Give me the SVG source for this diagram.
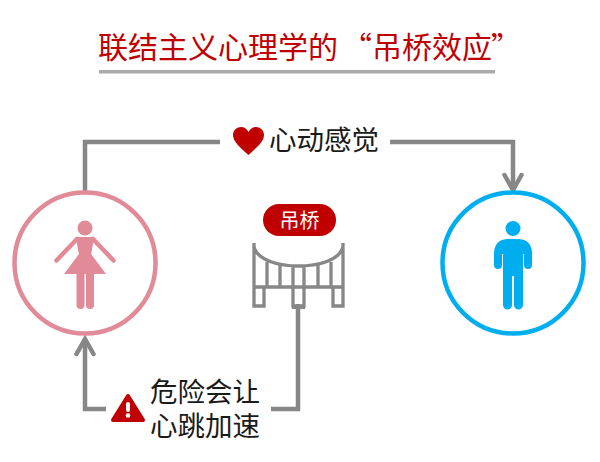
<svg xmlns="http://www.w3.org/2000/svg" width="600" height="462" viewBox="0 0 600 462">
<style>
text{font-family:"Noto Sans CJK SC","Liberation Sans",sans-serif}
.lbl{font-size:27.500px;fill:#1a1a1a}
.conn{fill:none;stroke:#878787;stroke-width:4.500}
.br{fill:none;stroke:#878787;stroke-width:3.300}
</style>
<defs><marker id="arr" markerUnits="userSpaceOnUse" markerWidth="24" markerHeight="24" refX="18" refY="11" orient="auto"><path d="M3 2.500L18 11L3 19.500" fill="none" stroke="#878787" stroke-width="4.500" stroke-linecap="round" stroke-linejoin="miter"/></marker></defs>
<rect width="600" height="462" fill="#fff"/>
<g id="title"><text y="58" font-size="30" fill="#c00000"><tspan x="98">联结主义心理学的</tspan><tspan x="342">“</tspan><tspan x="372">吊桥效应</tspan><tspan x="491">”</tspan></text>
<rect x="99" y="70" width="396" height="3.500" fill="#aaa"/></g>
<g id="connectors">
<path class="conn" d="M85 195V142H220"/>
<path class="conn" d="M390 142H513V190" marker-end="url(#arr)"/>
<path class="conn" d="M298 304V409H271"/>
<path class="conn" d="M106 409H85V339" marker-end="url(#arr)"/>
</g>
<g id="woman"><circle cx="85" cy="263" r="70.500" fill="#fff" stroke="#e08b97" stroke-width="4.500"/>
<g fill="#e08b97"><circle cx="85" cy="228" r="7.500"/>
<path d="M76 237H94L91 254L106 274H64L79 254Z"/>
<path d="M76 237H94L91 254H79Z"/>
<path d="M77 239L56.500 260.500M93 239L113.500 260.500" fill="none" stroke="#e08b97" stroke-width="4.500" stroke-linecap="round"/>
<rect x="76.500" y="268" width="8" height="41" rx="4"/><rect x="86" y="268" width="8" height="41" rx="4"/></g></g>
<g id="man"><circle cx="513" cy="263" r="70.500" fill="#fff" stroke="#00aeef" stroke-width="4.500"/>
<g fill="#00aeef"><circle cx="513" cy="228.500" r="7.500"/>
<path d="M507 239H519Q532 240 532 254V265A4 4 0 0 1 524 265V254H523V305A4.500 4.500 0 0 1 514 305V276H512V305A4.500 4.500 0 0 1 503 305V254H502V265A4 4 0 0 1 494 265V254Q494 240 507 239Z"/></g></g>
<g id="bridge"><rect x="263" y="204" width="73" height="32" rx="16" fill="#c00000"/>
<text x="299.500" y="228" font-size="20" fill="#fff" text-anchor="middle">吊桥</text>
<path class="br" d="M254 243V306H264V287M254 287H343M343 243V306H333V287M254 247C258 261 280 266 298.500 266C317 266 339 261 343 247M267 262V287M280 265V287M293 266V306H304V266M318 265V287M331 262V287"/>
<rect x="292" y="305" width="13" height="4" fill="#878787"/></g>
<g id="heart-label"><path d="M248.500 155C241 148 233 142 233 135C233 130 237 127 241 127C244.500 127 247 129 248.500 132C250 129 252.500 127 256 127C260 127 264 130 264 135C264 142 256 148 248.500 155Z" fill="#c00000"/>
<text class="lbl" x="269" y="150">心动感觉</text></g>
<g id="danger-label"><path d="M128 396L143 420H113Z" fill="#c00000" stroke="#c00000" stroke-width="4" stroke-linejoin="round"/>
<rect x="126" y="402" width="4" height="10" rx="2" fill="#fff"/><circle cx="128" cy="415.500" r="2.300" fill="#fff"/>
<text class="lbl"><tspan x="150" y="402">危险会让</tspan><tspan x="150" y="436">心跳加速</tspan></text></g>
</svg>
